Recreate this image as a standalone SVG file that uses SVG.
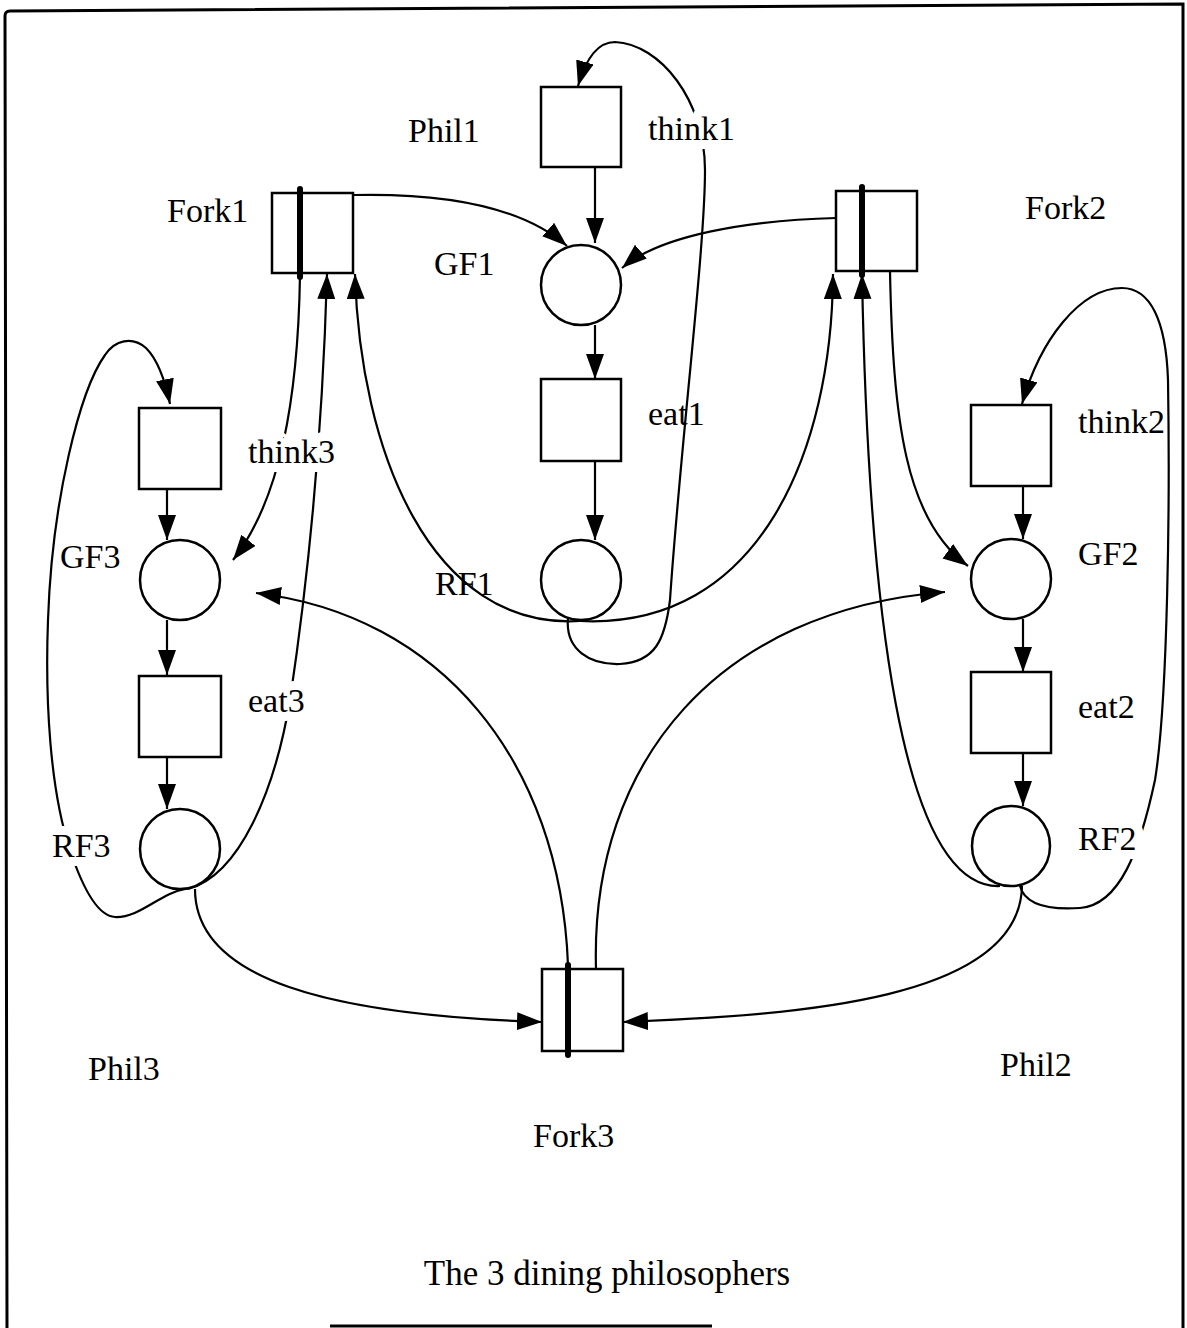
<svg xmlns="http://www.w3.org/2000/svg" width="1187" height="1328" viewBox="0 0 1187 1328">
  <defs>
    <marker id="arr" markerWidth="28" markerHeight="20" refX="25" refY="9" orient="auto" markerUnits="userSpaceOnUse">
      <path d="M0,0 L25,9 L0,18 z" fill="#000"/>
    </marker>
    <style>
      .node { fill: #fff; stroke: #000; stroke-width: 2.5; }
      .bar { stroke: #000; stroke-width: 6; stroke-linecap: round; }
      .arc { fill: none; stroke: #000; stroke-width: 2.2; }
      .arrow { marker-end: url(#arr); }
      .lbl { font-family: "Liberation Serif", "Times New Roman", serif; font-size: 34px; fill: #000; }
      .halo { stroke: #fff; stroke-width: 18px; paint-order: stroke; stroke-linejoin: round; }
      .frame { fill: none; stroke: #000; stroke-width: 3; }
    </style>
  </defs>
  <rect x="0" y="0" width="1187" height="1328" fill="#fff"/>
  <g id="frame">
    <path class="frame" d="M7,1328 L5,16 Q5,11 10,11 L1183,4 L1183,1328"/>
    <path class="frame" d="M330,1326 L712,1326"/>
  </g>

  <g id="connectors">
    <!-- Phil1 cycle -->
    <path class="arc arrow" d="M595,167 L595,243"/>
    <path class="arc arrow" d="M595,325 L595,379"/>
    <path class="arc arrow" d="M595,461 L595,540"/>
    <path class="arc arrow" d="M568,618 C 565,650 590,665 620,664 C 655,662 665,640 670,600 C 680,450 705,250 705,170 C 705,100 660,44 615,42 C 598,42 586,58 578,86"/>
    <!-- forks to GF1 -->
    <path class="arc arrow" d="M353,195 C 440,193 520,205 567,246"/>
    <path class="arc arrow" d="M836,218 C 750,220 660,235 622,268"/>
    <!-- RF1 back to forks -->
    <path class="arc arrow" d="M580,621 C 430,630 360,450 355,274"/>
    <path class="arc arrow" d="M580,621 C 760,630 832,450 833,274"/>
    <!-- Phil2 cycle -->
    <path class="arc arrow" d="M1023,486 L1023,539"/>
    <path class="arc arrow" d="M1023,619 L1023,672"/>
    <path class="arc arrow" d="M1023,753 L1023,806"/>
    <path class="arc arrow" d="M1020,886 C 1025,905 1050,910 1080,908 C 1120,905 1140,850 1155,780 C 1168,700 1170,500 1168,380 C 1166,320 1150,288 1122,288 C 1080,288 1040,340 1022,404"/>
    <path class="arc arrow" d="M890,271 C 893,420 905,520 968,566"/>
    <path class="arc arrow" d="M1000,886 C 900,890 868,600 862,274"/>
    <path class="arc arrow" d="M1022,886 C 1020,1000 800,1015 623,1022"/>
    <!-- Fork3 out -->
    <path class="arc arrow" d="M596,969 C 590,760 720,610 945,592"/>
    <path class="arc arrow" d="M568,965 C 560,760 440,615 256,593"/>
    <!-- Phil3 cycle -->
    <path class="arc arrow" d="M167,489 L167,540"/>
    <path class="arc arrow" d="M167,620 L167,675"/>
    <path class="arc arrow" d="M167,757 L167,809"/>
    <path class="arc arrow" d="M185,889 C 160,893 140,918 115,917 C 95,916 80,880 70,850 C 50,790 45,700 48,620 C 52,500 80,390 105,355 C 115,340 132,336 146,348 C 158,360 165,380 170,404"/>
    <path class="arc arrow" d="M188,889 C 240,875 275,790 290,700 C 305,600 322,450 327,274"/>
    <path class="arc arrow" d="M300,275 C 298,400 280,500 233,560"/>
    <path class="arc arrow" d="M195,889 C 195,980 330,1015 542,1022"/>
  </g>

  <g id="think1"><rect class="node" x="541" y="87" width="80" height="80"/></g>
  <g id="GF1"><circle class="node" cx="581" cy="285" r="40"/></g>
  <g id="eat1"><rect class="node" x="541" y="379" width="80" height="82"/></g>
  <g id="RF1"><circle class="node" cx="581" cy="580" r="40" fill="none"/></g>

  <g id="think3"><rect class="node" x="139" y="408" width="82" height="81"/></g>
  <g id="GF3"><circle class="node" cx="180" cy="580" r="40"/></g>
  <g id="eat3"><rect class="node" x="139" y="676" width="82" height="81"/></g>
  <g id="RF3"><ellipse class="node" cx="180" cy="849" rx="40" ry="40"/></g>

  <g id="think2"><rect class="node" x="971" y="405" width="80" height="81"/></g>
  <g id="GF2"><circle class="node" cx="1011" cy="579" r="40"/></g>
  <g id="eat2"><rect class="node" x="971" y="672" width="80" height="81"/></g>
  <g id="RF2"><ellipse class="node" cx="1011" cy="846" rx="39" ry="40"/></g>

  <g id="Fork1">
    <rect class="node" x="272" y="193" width="81" height="80"/>
    <line class="bar" x1="300" y1="189" x2="300" y2="277"/>
  </g>
  <g id="Fork2">
    <rect class="node" x="836" y="191" width="81" height="80"/>
    <line class="bar" x1="862" y1="187" x2="862" y2="275"/>
  </g>
  <g id="Fork3">
    <rect class="node" x="542" y="969" width="81" height="82"/>
    <line class="bar" x1="568" y1="965" x2="568" y2="1055"/>
  </g>

  <g id="labels">
    <text class="lbl" x="408" y="142">Phil1</text>
    <text class="lbl halo" x="648" y="140">think1</text>
    <text class="lbl" x="167" y="222">Fork1</text>
    <text class="lbl" x="1025" y="219">Fork2</text>
    <text class="lbl" x="434" y="275">GF1</text>
    <text class="lbl" x="648" y="425">eat1</text>
    <text class="lbl halo" x="248" y="463">think3</text>
    <text class="lbl" x="1078" y="433">think2</text>
    <text class="lbl" x="60" y="568">GF3</text>
    <text class="lbl" x="1078" y="565">GF2</text>
    <text class="lbl" x="435" y="595">RF1</text>
    <text class="lbl halo" x="248" y="712">eat3</text>
    <text class="lbl" x="1078" y="718">eat2</text>
    <text class="lbl halo" x="52" y="857">RF3</text>
    <text class="lbl halo" x="1078" y="850">RF2</text>
    <text class="lbl" x="88" y="1080">Phil3</text>
    <text class="lbl" x="1000" y="1076">Phil2</text>
    <text class="lbl" x="533" y="1147">Fork3</text>
    <text class="lbl" x="607" y="1285" text-anchor="middle" style="font-size:35px">The 3 dining philosophers</text>
  </g>
</svg>
